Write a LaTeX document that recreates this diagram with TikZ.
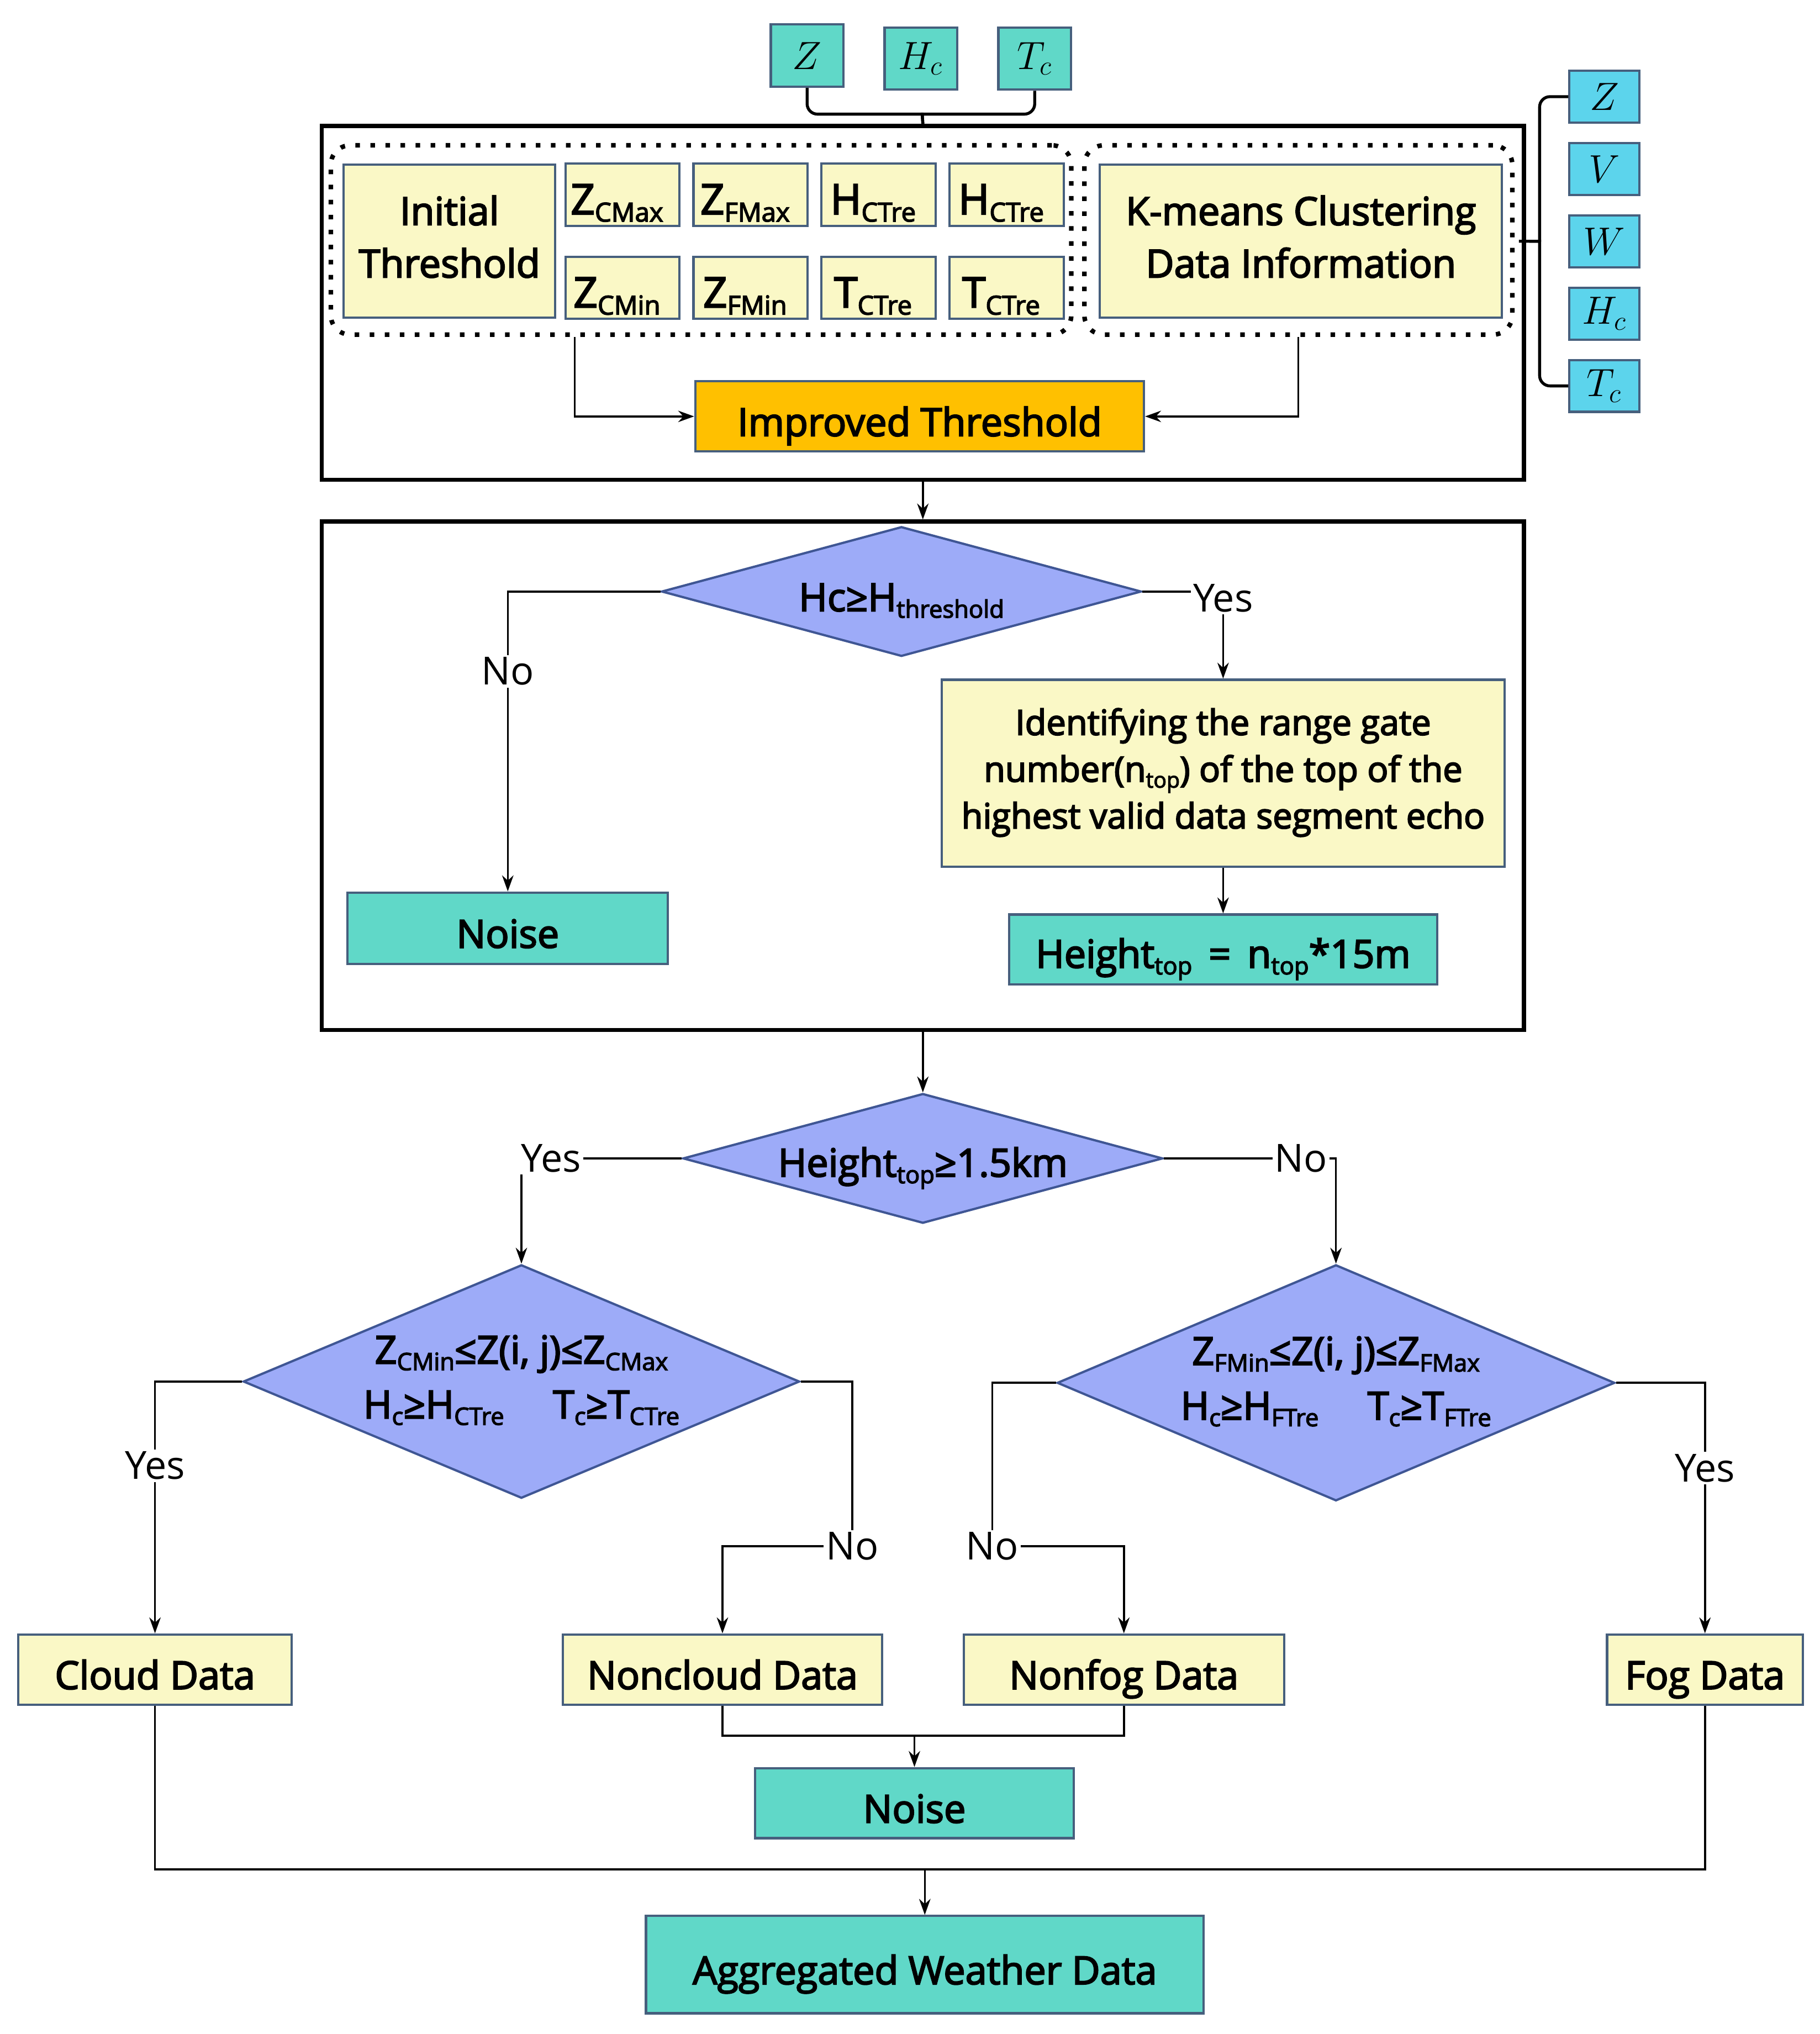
\documentclass[tikz,border=0pt]{standalone}
\usepackage{fontspec}
\setmainfont{Open Sans}[FakeBold=3.2]
\newfontfamily\plainfont{Open Sans}
\usepackage{tikz}
\usetikzlibrary{matrix,shapes.geometric,arrows.meta}

\definecolor{boxline}{RGB}{70,95,125}
\definecolor{paleyellow}{RGB}{250,248,198}
\definecolor{seagreen}{RGB}{96,216,200}
\definecolor{skyblue}{RGB}{92,212,236}
\definecolor{lavender}{RGB}{157,171,248}
\definecolor{diamondline}{RGB}{63,86,148}
\definecolor{amber}{RGB}{255,192,0}

\newcommand{\lo}[1]{\raisebox{-0.17em}{\scalebox{0.62}{#1}}}

\begin{document}
\begin{tikzpicture}[
    x=0.02cm, y=-0.02cm,
    >={Stealth[length=7pt,width=5pt]},
    flow/.style={->, line width=0.85pt},
    link/.style={line width=0.85pt},
    brace/.style={line width=1.3pt, rounded corners=1.6mm},
    box/.style={draw=boxline, line width=1pt, inner sep=0pt, align=center, font=\fontsize{17}{23}\selectfont, execute at begin node={\rule[-4.2pt]{0pt}{25.6pt}}},
    yellowbox/.style={box, fill=paleyellow},
    greenbox/.style={box, fill=seagreen},
    varbox/.style={draw=boxline, line width=1pt, inner sep=0pt, font=\fontsize{18}{20}\selectfont},
    decision/.style={diamond, draw=diamondline, line width=1pt, fill=lavender, inner sep=-0.4cm, align=center, font=\fontsize{17}{24}\selectfont, execute at begin node={\rule[-4.2pt]{0pt}{25.6pt}}},
    frame/.style={draw, line width=1.8pt, inner sep=0pt},
    group/.style={draw, line width=2pt, dash pattern=on 2pt off 4.6pt, rounded corners=3mm, inner sep=0pt},
    answer/.style={fill=white, inner sep=1pt, font=\plainfont\fontsize{17}{20}\selectfont}
    ]
    \useasboundingbox (0,0) rectangle (1403,1568);

    \node[frame, minimum width=18.54cm, minimum height=5.46cm] (stageA) at (711.5,233.5) {};
    \node[frame, minimum width=18.54cm, minimum height=7.84cm] (stageB) at (711.5,598) {};

    \matrix (inp) [matrix of nodes, column sep=0.6cm,
        nodes={varbox, fill=seagreen, minimum width=1.12cm, minimum height=0.96cm}] at (710,44)
    {
        $Z$ & $H_c$ & $T_c$ \\
    };
    \matrix (var) [matrix of nodes, row sep=0.28cm,
        nodes={varbox, fill=skyblue, minimum width=1.08cm, minimum height=0.8cm}] at (1237,186)
    {
        $Z$ \\ $V$ \\ $W$ \\ $H_c$ \\ $T_c$ \\
    };

    \node[group, minimum width=11.42cm, minimum height=2.92cm] (dotA) at (540.5,185) {};
    \node[group, minimum width=6.6cm, minimum height=2.92cm] (dotB) at (1001,185) {};
    \node[yellowbox, minimum width=3.26cm, minimum height=2.36cm] (init) at (346.5,186) {Initial\\Threshold};
    \matrix (thr) [matrix of nodes, column sep=0.18cm, row sep=0.44cm,
        nodes={yellowbox, font=\fontsize{18.5}{23}\selectfont, minimum width=1.76cm, minimum height=0.96cm}] at (628,186)
    {
        Z\lo{CMax} & Z\lo{FMax} & H\lo{CTre} & H\lo{CTre} \\
        Z\lo{CMin} & Z\lo{FMin} & T\lo{CTre} & T\lo{CTre} \\
    };
    \node[yellowbox, minimum width=6.2cm, minimum height=2.36cm] (kmeans) at (1003,186) {K-means Clustering\\Data Information};
    \node[box, fill=amber, minimum width=6.92cm, minimum height=1.08cm] (improved) at (709,321) {Improved Threshold};

    \draw[brace] (inp-1-1.south) |- (703,88) .. controls (711,88) .. (stageA.north);
    \draw[brace] (inp-1-3.south) |- (719,88) .. controls (711,88) .. (stageA.north);
    \coordinate (vmid) at (1187,186);
    \draw[brace] (var-1-1.west) -| (1187,178) .. controls (vmid) .. (1179,186) -- (stageA.east |- vmid);
    \draw[brace] (var-5-1.west) -| (1187,194) .. controls (vmid) .. (1179,186);

    \draw[flow] ([xshift=-1.95cm]dotA.south) |- (improved.west);
    \draw[flow] (dotB.south) |- (improved.east);
    \draw[flow] (stageA.south) -- (stageB.north);

    \node[decision, minimum width=7.4cm, minimum height=2cm, aspect=3.7] (hcheck) at (695,456) {Hc≥H\lo{threshold}};
    \node[greenbox, minimum width=4.94cm, minimum height=1.1cm] (noiseA) at (391.5,715.5) {Noise};
    \node[yellowbox, font=\fontsize{15.3}{20.5}\selectfont, minimum width=8.68cm, minimum height=2.88cm] (gate) at (943,596)
        {Identifying the range gate\\number(n\lo{top}) of the top of the\\highest valid data segment echo};
    \node[greenbox, minimum width=6.6cm, minimum height=1.08cm] (toph) at (943,732) {Height\lo{top} \,=\, n\lo{top}*15m};
    \draw[flow] (hcheck.west) -| node[answer, pos=0.633] {No} (noiseA.north);
    \draw[flow] (hcheck.east) -| node[answer, pos=0.5, yshift=-0.1cm] {Yes} (gate.north);
    \draw[flow] (gate.south) -- (toph.north);

    \node[decision, minimum width=7.4cm, minimum height=2cm, aspect=3.7] (hgate) at (711.5,893) {Height\lo{top}≥1.5km};
    \draw[flow] (stageB.south) -- (hgate.north);

    \node[decision, minimum width=8.58cm, minimum height=3.6cm, aspect=2.38] (cloudtest) at (402,1065)
        {Z\lo{CMin}≤Z(i, j)≤Z\lo{CMax}\\H\lo{c}≥H\lo{CTre}\quad\ T\lo{c}≥T\lo{CTre}};
    \node[decision, minimum width=8.6cm, minimum height=3.64cm, aspect=2.36] (fogtest) at (1030,1066)
        {Z\lo{FMin}≤Z(i, j)≤Z\lo{FMax}\\H\lo{c}≥H\lo{FTre}\quad\ T\lo{c}≥T\lo{FTre}};
    \draw[flow] (hgate.west) -| node[answer, pos=0.5, xshift=0.46cm] {Yes} (cloudtest.north);
    \draw[flow] (hgate.east) -| node[answer, pos=0.5, xshift=-0.54cm] {No} (fogtest.north);

    \node[yellowbox, minimum width=4.22cm, minimum height=1.08cm] (cloud) at (119.5,1287) {Cloud Data};
    \node[yellowbox, minimum width=4.92cm, minimum height=1.08cm] (noncloud) at (557,1287) {Noncloud Data};
    \node[yellowbox, minimum width=4.94cm, minimum height=1.08cm] (nonfog) at (866.5,1287) {Nonfog Data};
    \node[yellowbox, minimum width=3.02cm, minimum height=1.08cm] (fog) at (1314.5,1287) {Fog Data};
    \coordinate (cbend) at (657,1192);
    \coordinate (fbend) at (765,1192);
    \draw[flow] (cloudtest.west) -| node[answer, pos=0.667] {Yes} (cloud.north);
    \draw[flow] (cloudtest.east) -| (cbend) node[answer] {No} -| (noncloud.north);
    \draw[flow] (fogtest.west) -| (fbend) node[answer] {No} -| (nonfog.north);
    \draw[flow] (fogtest.east) -| node[answer, pos=0.67] {Yes} (fog.north);

    \node[greenbox, minimum width=4.92cm, minimum height=1.08cm] (noiseB) at (705,1390) {Noise};
    \node[greenbox, minimum width=8.6cm, minimum height=1.5cm] (agg) at (713,1514.5) {Aggregated Weather Data};
    \coordinate (mergeA) at (705,1338);
    \coordinate (mergeB) at (713,1441);
    \draw[link] (noncloud.south) |- (mergeA) -| (nonfog.south);
    \draw[flow] (mergeA) -- (noiseB.north);
    \draw[link] (cloud.south) |- (mergeB) -| (fog.south);
    \draw[flow] (mergeB) -- (agg.north);
\end{tikzpicture}
\end{document}
